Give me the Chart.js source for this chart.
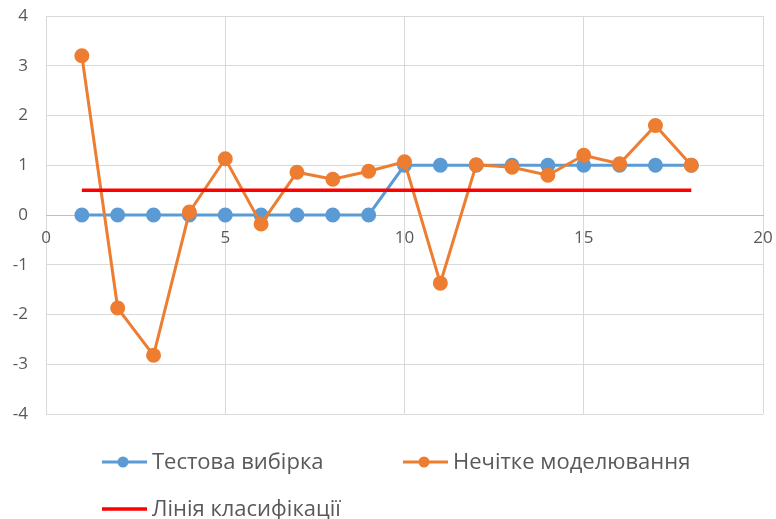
<!DOCTYPE html>
<html>
<head>
<meta charset="utf-8">
<script src="https://cdn.jsdelivr.net/npm/chart.js@4.4.1/dist/chart.umd.min.js"></script>
<style>
  html, body { margin: 0; padding: 0; background: #fff; }
  #wrap { width: 776px; height: 519px; }
</style>
</head>
<body>
<div id="wrap"><canvas id="chart" width="776" height="519"></canvas></div>
<script>
const xValues = [1, 2, 3, 4, 5, 6, 7, 8, 9, 10, 11, 12, 13, 14, 15, 16, 17, 18];
const testSample = [0, 0, 0, 0, 0, 0, 0, 0, 0, 1, 1, 1, 1, 1, 1, 1, 1, 1];
const fuzzyModel = [3.2, -1.87, -2.82, 0.06, 1.13, -0.18, 0.86, 0.72, 0.88, 1.07, -1.37, 1.01, 0.96, 0.8, 1.2, 1.03, 1.8, 1.0];
const classLine = [0.5, 0.5];
const classLineX = [1, 18];
const seriesNames = ['Тестова вибірка', 'Нечітке моделювання', 'Лінія класифікації'];
const fontFamily = '"Open Sans", "Noto Sans", sans-serif';
const textColor = '#595959';

function toPoints(xs, ys) {
    return xs.map((x, i) => ({ x: x, y: ys[i] }));
}

// legend drawn by hand so rows stay left aligned like the original
const legendPlugin = {
    id: 'sideLegend',
    afterDraw(chart) {
        const ctx = chart.ctx;
        const items = [
            { ds: 0, x: 102, y: 462 },
            { ds: 1, x: 403, y: 462 },
            { ds: 2, x: 102, y: 509 }
        ];
        ctx.save();
        ctx.font = '22px ' + fontFamily;
        ctx.textBaseline = 'middle';
        items.forEach(item => {
            const ds = chart.data.datasets[item.ds];
            ctx.strokeStyle = ds.borderColor;
            ctx.lineWidth = ds.borderWidth;
            ctx.beginPath();
            ctx.moveTo(item.x, item.y);
            ctx.lineTo(item.x + 45, item.y);
            ctx.stroke();
            if (ds.pointRadius > 0) {
                ctx.fillStyle = ds.pointBackgroundColor;
                ctx.beginPath();
                ctx.arc(item.x + 21, item.y, 5.5, 0, Math.PI * 2);
                ctx.fill();
            }
            ctx.fillStyle = textColor;
            ctx.fillText(seriesNames[item.ds], item.x + 50, item.y + 1);
        });
        ctx.restore();
    }
};

new Chart(document.getElementById('chart'), {
    type: 'scatter',
    data: {
        datasets: [
            {
                label: seriesNames[0],
                data: toPoints(xValues, testSample),
                showLine: true,
                borderColor: '#5b9bd5',
                backgroundColor: '#5b9bd5',
                pointBackgroundColor: '#5b9bd5',
                pointBorderColor: '#5b9bd5',
                borderWidth: 3,
                pointRadius: 6,
                order: 3
            },
            {
                label: seriesNames[1],
                data: toPoints(xValues, fuzzyModel),
                showLine: true,
                borderColor: '#ed7d31',
                backgroundColor: '#ed7d31',
                pointBackgroundColor: '#ed7d31',
                pointBorderColor: '#ed7d31',
                borderWidth: 3,
                pointRadius: 6,
                order: 2
            },
            {
                label: seriesNames[2],
                data: toPoints(classLineX, classLine),
                showLine: true,
                borderColor: '#ff0000',
                backgroundColor: '#ff0000',
                borderWidth: 3.5,
                pointRadius: 0,
                order: 1
            }
        ]
    },
    options: {
        responsive: false,
        animation: false,
        layout: { padding: { top: 16, right: 13, bottom: 105, left: 0 } },
        plugins: {
            legend: { display: false },
            tooltip: { enabled: false }
        },
        scales: {
            x: {
                type: 'linear',
                position: { y: 0 },
                min: 0,
                max: 20,
                // axis sits at y = 0 inside the plot, so it should not take any room
                afterFit(scale) {
                    scale.height = 0;
                    scale.paddingLeft = 0;
                    scale.paddingRight = 0;
                },
                ticks: {
                    stepSize: 5,
                    color: textColor,
                    padding: 13,
                    font: { family: fontFamily, size: 17 }
                },
                grid: { color: '#d9d9d9', lineWidth: 1, drawTicks: false },
                border: { color: '#bfbfbf', width: 1 }
            },
            y: {
                min: -4,
                max: 4,
                afterFit(scale) {
                    scale.width = 46;
                    scale.paddingTop = 0;
                    scale.paddingBottom = 0;
                },
                ticks: {
                    stepSize: 1,
                    color: textColor,
                    padding: 18,
                    font: { family: fontFamily, size: 17 }
                },
                grid: { color: '#d9d9d9', lineWidth: 1, drawTicks: false },
                border: { display: false }
            }
        }
    },
    plugins: [legendPlugin]
});
</script>
</body>
</html>
